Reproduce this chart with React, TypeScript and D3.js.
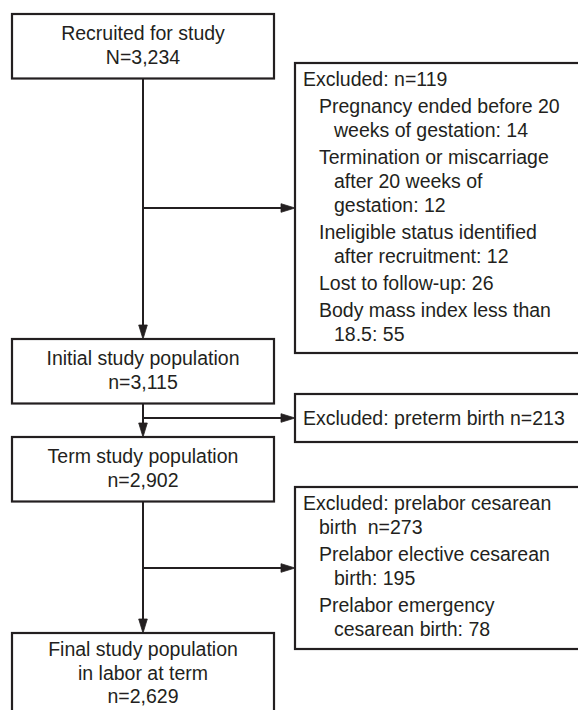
import React from "react";
import * as d3 from "d3";

// ---- data ----
const mainLabels: string[][] = [
  ["Recruited for study"],
  ["Initial study population"],
  ["Term study population"],
  ["Final study population", "in labor at term"],
];
const mainCounts: string[] = ["N=3,234", "n=3,115", "n=2,902", "n=2,629"];

const exclusionHeaders: string[][] = [
  ["Excluded: n=119"],
  ["Excluded: preterm birth n=213"],
  ["Excluded: prelabor cesarean", "birth\u00A0\u00A0n=273"],
];
const exclusionItems: string[][][] = [
  [
    ["Pregnancy ended before 20", "weeks of gestation: 14"],
    ["Termination or miscarriage", "after 20 weeks of", "gestation: 12"],
    ["Ineligible status identified", "after recruitment: 12"],
    ["Lost to follow-up: 26"],
    ["Body mass index less than", "18.5: 55"],
  ],
  [],
  [
    ["Prelabor elective cesarean", "birth: 195"],
    ["Prelabor emergency", "cesarean birth: 78"],
  ],
];

// ---- layout ----
const W = 578;
const H = 710;
const INK = "#231f20";
const FONT = "'Liberation Sans', Arial, Helvetica, sans-serif";
const FS = 19.5;
const LINE = 24;
const ITEM_GAP = 27;

const mainX0 = 12;
const mainX1 = 274;
const spineX = 143;
const mainTops = [14, 339, 437, 633];

const exX0 = 295;
const exX1 = 600;
const exBoxes: [number, number][] = [
  [63, 353],
  [394, 442],
  [487, 649],
];

type Line = { text: string; x: number; y: number };

function exclusionLines(i: number): Line[] {
  const [top, bottom] = exBoxes[i];
  const head = exclusionHeaders[i];
  const items = exclusionItems[i];
  const out: Line[] = [];
  if (items.length === 0 && head.length === 1) {
    out.push({ text: head[0], x: exX0 + 8, y: (top + bottom) / 2 + 6.5 });
    return out;
  }
  let y = top + 23;
  head.forEach((t, k) => {
    out.push({ text: t, x: k === 0 ? exX0 + 8 : exX0 + 24, y });
    y += LINE;
  });
  y += ITEM_GAP - LINE;
  items.forEach((item) => {
    item.forEach((t, k) => {
      out.push({ text: t, x: k === 0 ? exX0 + 24 : exX0 + 39, y });
      y += LINE;
    });
    y += ITEM_GAP - LINE;
  });
  return out;
}

function mainBox(i: number) {
  const lines = [...mainLabels[i], mainCounts[i]];
  const top = mainTops[i];
  const step = lines.length > 2 ? 23.5 : LINE;
  const first = top + (lines.length > 2 ? 23 : 25.5);
  const baselines = lines.map((_, k) => first + k * step);
  const bottom = baselines[baselines.length - 1] + 15;
  return { top, bottom, lines, baselines };
}

function arrowHead(tipX: number, tipY: number, dir: "down" | "right") {
  const len = 14;
  const hw = 4.3;
  const pts: [number, number][] =
    dir === "down"
      ? [
          [tipX, tipY],
          [tipX - hw, tipY - len],
          [tipX + hw, tipY - len],
        ]
      : [
          [tipX, tipY],
          [tipX - len, tipY - hw],
          [tipX - len, tipY + hw],
        ];
  return d3.line()(pts.concat([pts[0]])) as string;
}

export default function App() {
  const boxes = mainTops.map((_, i) => mainBox(i));
  const line = d3.line();

  return (
    <svg
      width={W}
      height={H}
      viewBox={`0 0 ${W} ${H}`}
      style={{ position: "absolute", left: 0, top: 0, background: "#fff" }}
      fontFamily={FONT}
      fontSize={FS}
    >
      <rect x={0} y={0} width={W} height={H} fill="#fff" />
      {/* spine connectors */}
      {boxes.slice(0, -1).map((b, i) => {
        const next = boxes[i + 1];
        const branchY = (exBoxes[i][0] + exBoxes[i][1]) / 2;
        return (
          <g key={"c" + i}>
            <path
              d={line([
                [spineX, b.bottom],
                [spineX, next.top - 10],
              ]) as string}
              stroke={INK}
              strokeWidth={2}
              fill="none"
            />
            <path d={arrowHead(spineX, next.top, "down")} fill={INK} stroke={INK} strokeWidth={0.8} />
            <path
              d={line([
                [spineX, branchY],
                [exX0 - 10, branchY],
              ]) as string}
              stroke={INK}
              strokeWidth={2}
              fill="none"
            />
            <path d={arrowHead(exX0, branchY, "right")} fill={INK} stroke={INK} strokeWidth={0.8} />
          </g>
        );
      })}
      {/* main boxes */}
      {boxes.map((b, i) => (
        <g key={"m" + i}>
          <rect
            x={mainX0}
            y={b.top}
            width={mainX1 - mainX0}
            height={b.bottom - b.top}
            fill="#fff"
            stroke={INK}
            strokeWidth={2.2}
          />
          {b.lines.map((t, k) => (
            <text
              key={k}
              x={(mainX0 + mainX1) / 2}
              y={b.baselines[k]}
              textAnchor="middle"
              fill={INK}
            >
              {t}
            </text>
          ))}
        </g>
      ))}
      {/* exclusion boxes */}
      {exBoxes.map(([top, bottom], i) => (
        <g key={"e" + i}>
          <rect
            x={exX0}
            y={top}
            width={exX1 - exX0}
            height={bottom - top}
            fill="#fff"
            stroke={INK}
            strokeWidth={2.2}
          />
          {exclusionLines(i).map((l, k) => (
            <text key={k} x={l.x} y={l.y} fill={INK} style={{ whiteSpace: "pre" }}>
              {l.text}
            </text>
          ))}
        </g>
      ))}
    </svg>
  );
}
